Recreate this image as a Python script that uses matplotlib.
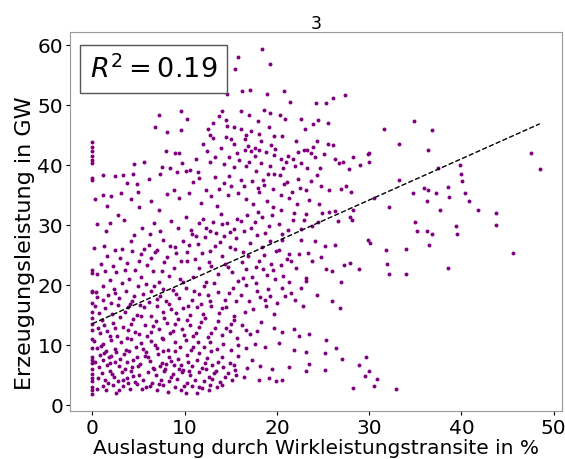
import matplotlib
matplotlib.use("Agg")
import matplotlib.pyplot as plt
import numpy as np

# points: (Auslastung %, Erzeugung GW)
zero_col = [43.8, 43.0, 42.2, 41.5, 40.8, 40.2, 37.8, 37.5, 22.5, 22.0, 19.0, 18.7, 17.0,
            15.5, 14.5, 13.5, 12.5, 11.0, 9.5, 8.0, 7.5, 7.0, 6.0, 5.2, 4.5, 4.0, 3.0, 2.5, 1.8]

upper = [
    (18.4, 59.2), (15.8, 57.9), (15.5, 56.0), (19.3, 56.8), (12.1, 52.2), (14.6, 51.8),
    (16.2, 52.3), (17.1, 52.5), (18.9, 51.8), (20.8, 52.3), (21.4, 50.4), (24.2, 50.2),
    (25.3, 50.2), (26.1, 51.1), (27.4, 51.6), (14.1, 49.0), (13.7, 48.1), (14.5, 47.5),
    (16.1, 49.0), (17.0, 48.2), (18.6, 49.1), (19.3, 48.6), (20.3, 48.3), (20.9, 47.6),
    (7.2, 48.2), (9.6, 48.9), (10.2, 47.6), (6.8, 46.2), (8.1, 45.4), (9.6, 45.7),
    (12.5, 46.0), (13.1, 47.0), (12.8, 45.0), (14.6, 46.4), (15.4, 46.2), (16.1, 45.9),
    (16.6, 44.9), (17.2, 45.6), (18.1, 45.1), (19.1, 46.2), (20.5, 44.8), (23.0, 46.0),
    (23.9, 46.8), (24.5, 47.5), (25.5, 47.0), (22.6, 47.6), (31.6, 46.0), (34.9, 47.2),
    (36.8, 45.8),
    (12.0, 43.5), (13.1, 44.4), (14.5, 44.6), (15.3, 43.5), (16.5, 44.3), (17.6, 42.8),
    (18.3, 43.9), (19.4, 43.2), (22.1, 43.9), (23.3, 42.5), (24.3, 44.0), (25.5, 43.5),
    (26.1, 43.2), (33.2, 43.5), (36.4, 42.5), (47.5, 42.0), (30.0, 42.0), (30.0, 40.5),
    (8.0, 42.2), (9.0, 42.0), (9.4, 41.9), (11.2, 41.0), (12.4, 42.3), (13.3, 41.3),
    (14.8, 41.2), (15.7, 42.0), (16.5, 42.5), (17.2, 42.3), (17.6, 41.5), (18.8, 42.1),
    (19.7, 41.6), (21.2, 41.4), (22.3, 42.1), (22.9, 42.5), (23.7, 41.9), (24.1, 41.3),
    (25.1, 41.7), (26.3, 41.0), (27.2, 40.5), (28.2, 41.2), (29.9, 41.8),
    (4.5, 40.1), (5.6, 40.4), (7.5, 39.6), (8.4, 39.4), (9.7, 40.2), (10.6, 39.1),
    (11.4, 38.8), (12.7, 40.5), (14.3, 40.1), (15.3, 39.6), (16.7, 39.7), (18.3, 40.3),
    (19.2, 39.8), (21.0, 40.5), (22.0, 39.7), (23.3, 39.5), (24.7, 39.4), (26.7, 40.3),
    (27.8, 39.3), (29.0, 40.0), (37.5, 39.5), (39.8, 40.0), (48.5, 39.3), (40.0, 38.5),
]

middle = [
    (1.1, 38.2), (2.4, 38.1), (3.3, 38.2), (3.7, 37.0), (4.4, 38.5), (4.8, 36.8),
    (6.1, 37.6), (7.3, 38.5), (9.2, 38.7), (10.1, 38.9), (10.9, 37.1), (11.5, 37.8),
    (12.3, 35.8), (13.3, 37.9), (14.3, 37.0), (15.0, 36.5), (16.1, 37.5), (17.3, 37.3),
    (17.9, 36.1), (18.6, 36.6), (19.7, 38.4), (20.3, 38.2), (21.1, 37.1), (22.3, 37.6),
    (23.1, 35.7), (24.8, 36.4), (25.7, 35.8), (26.9, 36.0), (27.5, 36.5), (28.0, 35.5),
    (34.8, 35.2), (35.9, 36.1), (36.4, 35.7), (37.3, 35.2), (38.5, 36.2), (40.1, 37.2),
    (40.4, 35.2), (33.2, 37.4),
    (0.3, 34.2), (1.2, 34.9), (1.6, 33.1), (2.0, 34.7), (3.1, 35.3), (4.2, 34.2),
    (4.9, 35.5), (5.1, 32.9), (6.3, 33.9), (7.2, 32.5), (8.1, 35.1), (8.8, 35.7),
    (9.4, 34.4), (10.5, 35.2), (11.8, 33.6), (12.9, 34.7), (13.5, 33.1), (14.7, 34.9),
    (15.8, 35.2), (16.6, 34.3), (17.4, 33.5), (18.1, 35.4), (18.9, 34.0), (19.6, 33.0),
    (20.4, 35.0), (21.3, 34.4), (22.2, 33.5), (23.5, 34.1), (24.6, 33.4), (26.3, 32.3),
    (28.3, 32.5), (30.5, 34.5), (32.1, 33.0), (36.3, 34.0), (37.7, 32.4), (38.7, 34.6),
    (40.8, 34.0), (41.8, 32.4), (43.7, 32.0), (39.4, 29.8), (43.7, 30.0), (35.0, 30.5),
    (0.5, 30.1), (1.5, 29.0), (1.9, 30.2), (2.8, 31.6), (3.4, 30.8), (4.5, 28.3),
    (5.4, 29.4), (6.2, 28.5), (6.7, 30.2), (7.3, 29.0), (8.5, 30.6), (9.3, 29.5),
    (10.1, 31.2), (10.8, 28.4), (11.5, 30.2), (12.3, 29.4), (13.1, 30.5), (13.9, 31.7),
    (14.6, 30.2), (15.4, 29.3), (16.1, 30.6), (16.8, 31.6), (17.6, 30.4), (18.4, 31.2),
    (19.1, 29.8), (20.2, 30.1), (20.6, 28.4), (21.7, 30.8), (22.6, 29.3), (23.1, 31.7),
    (24.4, 30.5), (25.6, 32.1), (26.6, 30.6), (27.9, 31.2), (28.1, 30.8),
    (0.2, 26.1), (1.3, 26.4), (2.5, 25.7), (3.2, 25.9), (4.2, 27.2), (5.3, 25.1),
    (6.1, 26.6), (6.8, 25.4), (7.7, 27.5), (8.4, 26.5), (9.1, 25.3), (9.8, 27.3),
    (10.3, 25.4), (10.7, 29.1), (11.4, 26.8), (12.2, 27.9), (12.8, 25.6), (13.8, 27.1),
    (14.3, 28.1), (14.9, 26.2), (15.6, 27.7), (16.3, 25.4), (17.1, 26.9), (17.8, 28.2),
    (18.4, 26.3), (19.2, 27.2), (19.9, 25.6), (20.6, 27.4), (21.3, 25.1), (22.6, 27.5),
    (23.4, 25.2), (24.1, 27.3), (25.2, 26.4), (26.3, 26.6), (29.9, 27.4), (30.1, 27.0),
    (31.8, 25.8), (34.0, 25.9), (35.2, 28.9), (36.3, 28.9), (36.8, 28.4), (36.5, 26.6),
    (39.5, 28.4), (45.6, 25.3), (27.3, 23.3), (27.9, 23.6),
    (0.5, 21.8), (1.4, 22.3), (1.9, 20.7), (2.6, 22.1), (3.5, 22.4), (4.0, 20.9),
    (4.6, 22.5), (5.3, 21.2), (5.9, 23.3), (6.6, 22.3), (7.2, 20.5), (7.8, 23.7),
    (8.3, 21.5), (8.8, 22.8), (9.5, 20.9), (10.2, 23.9), (10.9, 21.3), (11.6, 22.7),
    (12.3, 20.4), (12.9, 23.1), (13.6, 21.8), (14.4, 23.5), (15.1, 22.1), (15.8, 20.6),
    (16.6, 22.6), (17.3, 21.3), (18.1, 23.9), (18.9, 21.6), (19.6, 22.4), (20.4, 23.3),
    (21.3, 20.5), (22.1, 22.8), (23.2, 21.1), (25.3, 22.6), (28.9, 22.6), (31.9, 23.5),
    (32.2, 21.8), (34.0, 21.8), (38.6, 22.7),
    (16.3, 21.1), (17.7, 20.2), (18.5, 22.6), (19.8, 21.0), (20.7, 21.4), (21.5, 23.9),
    (22.6, 19.4), (23.1, 20.6), (24.3, 18.3),
]

lower = [
    (0.4, 18.7), (1.1, 17.5), (1.7, 18.2), (2.3, 19.2), (2.9, 17.8), (3.6, 18.9),
    (4.3, 17.2), (4.9, 19.7), (5.5, 18.4), (6.1, 17.1), (6.7, 19.8), (7.3, 18.1),
    (8.0, 17.2), (8.7, 19.1), (9.4, 17.8), (10.1, 19.5), (10.8, 17.4), (11.5, 18.5),
    (12.1, 19.7), (12.8, 17.2), (13.6, 18.8), (14.4, 17.4), (15.2, 19.4), (16.1, 18.3),
    (17.0, 17.3), (17.8, 18.9), (18.7, 17.5), (19.3, 18.1), (20.5, 19.5), (21.5, 18.6),
    (26.0, 17.3),
    (0.3, 16.4), (0.7, 15.3), (1.4, 16.1), (2.1, 15.1), (2.8, 16.6), (3.5, 15.4),
    (4.1, 16.8), (4.8, 14.9), (5.6, 16.2), (6.3, 14.8), (7.0, 16.4), (7.6, 15.5),
    (8.3, 16.7), (9.1, 15.2), (9.8, 16.1), (10.6, 14.9), (11.3, 16.3), (12.0, 15.1),
    (12.9, 16.5), (13.7, 15.3), (14.5, 16.2), (15.3, 14.8), (16.5, 15.4), (18.8, 16.5),
    (19.7, 15.1), (22.8, 16.5), (26.8, 16.1),
    (0.6, 12.8), (1.0, 14.1), (1.6, 12.2), (2.2, 13.6), (2.7, 11.5), (3.3, 13.0),
    (3.9, 12.4), (4.4, 14.2), (5.1, 11.8), (5.7, 13.3), (6.3, 12.1), (6.9, 14.0),
    (7.5, 11.2), (8.1, 13.6), (8.7, 12.3), (9.3, 14.3), (9.9, 11.6), (10.6, 13.2),
    (11.2, 12.0), (11.8, 13.8), (12.5, 11.3), (13.3, 12.8), (14.1, 11.6), (14.9, 12.2),
    (15.7, 11.1), (16.6, 12.5), (17.8, 12.2), (19.7, 12.8), (21.9, 12.6), (22.4, 11.5),
    (23.5, 11.8), (25.3, 10.8), (15.0, 13.5),
    (0.2, 10.6), (0.5, 9.5), (1.1, 10.2), (1.5, 8.9), (2.0, 10.8), (2.5, 9.3),
    (3.1, 10.5), (3.6, 9.1), (4.2, 10.9), (4.7, 9.6), (5.3, 10.3), (5.8, 8.8),
    (6.4, 10.7), (7.0, 9.4), (7.6, 10.9), (8.2, 9.2), (8.9, 10.4), (9.5, 9.7),
    (10.1, 10.8), (10.7, 9.1), (11.4, 10.4), (12.1, 9.6), (12.8, 10.5), (13.5, 9.3),
    (14.2, 10.1), (15.0, 9.2), (15.8, 9.9), (16.7, 9.5), (17.6, 10.2), (18.7, 9.7),
    (20.2, 10.3), (21.9, 9.2), (23.2, 8.8), (25.2, 8.7), (26.4, 9.4), (27.1, 7.7),
    (0.3, 7.2), (0.8, 8.3), (1.2, 7.5), (1.6, 6.6), (2.0, 8.1), (2.4, 7.2),
    (2.9, 6.5), (3.4, 8.4), (3.8, 7.1), (4.3, 6.3), (4.8, 7.9), (5.2, 6.8),
    (5.7, 8.2), (6.2, 7.3), (6.6, 6.1), (7.1, 8.5), (7.5, 7.0), (7.9, 5.9),
    (8.3, 8.0), (8.8, 6.7), (9.3, 7.6), (9.8, 5.8), (10.3, 8.3), (10.8, 6.4),
    (11.3, 7.4), (11.9, 6.1), (12.4, 7.8), (13.0, 6.6), (13.6, 7.2), (14.2, 6.3),
    (14.9, 7.0), (15.5, 5.8), (16.8, 6.2), (17.3, 7.4), (18.2, 6.5), (19.5, 5.9),
    (21.3, 6.3), (23.2, 5.7), (23.5, 6.8), (25.2, 5.8), (29.7, 7.9), (28.9, 6.6),
    (30.0, 5.6),
    (0.6, 4.4), (1.0, 5.3), (1.4, 4.1), (1.9, 5.6), (2.3, 4.6), (2.8, 3.9),
    (3.2, 5.4), (3.7, 4.4), (4.2, 5.7), (4.6, 3.8), (5.1, 5.0), (5.5, 4.2),
    (6.0, 5.5), (6.5, 3.6), (6.9, 4.9), (7.4, 4.1), (7.8, 5.6), (8.3, 3.9),
    (8.7, 5.1), (9.2, 4.3), (9.7, 5.4), (10.2, 3.7), (10.6, 4.9), (11.1, 4.1),
    (11.6, 5.5), (12.1, 3.9), (12.6, 4.7), (13.2, 5.3), (13.8, 3.8), (14.4, 4.6),
    (15.1, 4.2), (15.6, 4.9), (18.1, 4.1), (19.1, 4.4), (19.9, 4.0), (20.6, 4.2),
    (30.8, 4.3), (29.6, 4.8),
    (0.5, 2.6), (1.1, 3.1), (1.5, 2.4), (2.2, 3.3), (2.9, 2.5), (3.3, 3.2),
    (4.1, 2.6), (4.8, 3.4), (5.4, 2.7), (6.2, 3.1), (7.0, 2.4), (7.6, 3.3),
    (8.2, 2.2), (8.9, 3.0), (9.6, 2.5), (10.1, 1.9), (10.8, 3.2), (11.3, 1.9),
    (11.9, 2.8), (12.8, 3.3), (13.5, 2.9), (28.2, 2.8), (30.5, 3.1), (32.9, 2.6),
]

# second pass over the dense cloud (x 0-25)
dense = [
    (0.9, 9.8), (1.3, 8.7), (1.8, 7.9), (0.7, 6.3), (1.9, 6.9), (2.6, 8.8), (2.1, 5.2),
    (3.0, 7.7), (3.5, 6.0), (4.0, 8.9), (4.4, 7.4), (4.9, 6.4), (5.5, 9.3), (6.0, 7.9),
    (6.8, 9.9), (7.3, 6.5), (7.7, 9.0), (8.5, 7.3), (8.0, 6.8), (9.0, 8.9), (9.6, 6.6),
    (10.4, 7.1), (10.9, 9.6), (11.6, 8.7), (12.2, 6.9), (12.9, 8.9), (13.4, 5.6),
    (14.0, 7.9), (14.7, 5.3), (15.3, 6.7), (15.8, 8.1), (16.4, 4.7), (3.3, 4.1),
    (4.4, 4.8), (5.8, 3.0), (6.7, 5.9), (8.5, 4.6), (9.4, 6.0), (10.5, 5.7), (11.5, 2.9),
    (12.3, 5.9), (13.0, 4.3), (14.1, 3.3), (1.7, 3.6), (2.6, 2.0), (3.9, 3.6), (7.2, 3.5),
    (9.9, 3.2), (12.6, 2.4),
    (0.8, 11.9), (1.3, 13.2), (1.9, 11.4), (2.4, 12.7), (3.0, 14.6), (3.7, 11.2),
    (4.2, 13.5), (4.6, 12.1), (5.3, 14.7), (5.9, 11.5), (6.6, 13.1), (7.2, 12.6),
    (7.8, 14.4), (8.4, 11.9), (9.0, 13.4), (9.7, 12.6), (10.3, 14.1), (10.9, 11.4),
    (11.5, 12.9), (12.2, 14.5), (12.9, 12.0), (13.6, 13.9), (14.5, 12.8), (15.4, 14.1),
    (16.2, 13.3), (17.1, 11.8), (18.3, 13.7), (20.6, 12.1),
    (0.5, 17.9), (1.2, 19.8), (2.0, 16.9), (2.5, 18.6), (3.2, 20.3), (3.9, 16.2),
    (4.5, 18.1), (5.2, 16.6), (5.8, 20.1), (6.4, 18.9), (7.0, 17.6), (7.7, 19.3),
    (8.5, 15.9), (9.1, 18.4), (9.8, 20.4), (10.4, 16.4), (11.0, 19.0), (11.8, 16.8),
    (12.5, 18.2), (13.2, 20.2), (14.0, 16.1), (14.8, 18.6), (15.6, 17.3), (16.6, 19.9),
    (17.4, 16.0), (18.2, 17.9), (19.0, 19.3), (20.0, 16.9), (20.9, 18.1), (22.0, 17.4),
    (0.9, 23.5), (1.6, 24.8), (2.2, 23.1), (3.0, 24.4), (3.8, 23.6), (4.3, 25.6),
    (5.0, 24.0), (5.6, 26.0), (6.3, 24.4), (7.0, 25.8), (7.5, 22.2), (8.1, 24.6),
    (8.9, 26.2), (9.6, 24.0), (10.5, 26.6), (11.1, 24.3), (11.9, 25.2), (12.6, 23.8),
    (13.3, 26.4), (14.1, 24.8), (14.7, 22.9), (15.5, 25.9), (16.2, 23.7), (16.9, 24.7),
    (17.7, 23.0), (18.6, 24.9), (19.4, 23.4), (20.2, 25.8), (21.1, 24.3), (22.4, 25.1),
    (23.8, 23.9), (24.8, 24.6), (26.0, 22.2), (27.0, 20.4),
    (11.2, 28.1), (12.0, 30.9), (12.7, 29.0), (13.4, 28.6), (14.0, 30.1), (14.9, 28.8),
    (15.7, 31.0), (16.4, 28.9), (17.2, 29.4), (18.0, 32.1), (18.7, 28.6), (19.5, 31.6),
    (20.4, 32.4), (21.2, 29.1), (21.9, 32.0), (22.9, 30.7), (23.8, 29.7), (24.9, 31.9),
    (19.6, 35.9), (20.8, 36.8), (21.6, 35.4), (22.5, 36.1), (23.7, 37.3), (24.3, 38.3),
    (13.7, 35.9), (14.8, 38.1), (16.4, 36.4), (17.7, 38.9), (18.5, 37.5), (19.0, 38.4),
    (20.7, 39.4), (21.7, 41.0), (22.6, 40.3), (23.9, 43.0), (15.9, 40.8), (17.0, 40.5),
    (18.1, 42.4), (19.8, 42.6), (20.4, 41.0), (13.9, 42.7), (15.0, 44.2), (17.9, 47.2),
    (19.7, 44.7), (16.9, 43.1),
]

# regression line
trend_x = [0.0, 48.5]
trend_y = [13.5, 46.8]
r2_text = r"$R^2 = 0.19$"

pts = np.array(upper + middle + lower + dense)
util = np.concatenate([np.zeros(len(zero_col)), pts[:, 0]])
gen = np.concatenate([zero_col, pts[:, 1]])

fig = plt.figure(figsize=(5.65, 4.6), dpi=100)
ax = fig.add_axes([0.124, 0.104, 0.871, 0.824])
ax.scatter(util, gen, s=8, color="purple", linewidths=0)
ax.plot(trend_x, trend_y, color="black", linestyle="--", linewidth=1)

ax.set_title("3", fontsize=12.5, pad=2)
ax.set_xlabel("Auslastung durch Wirkleistungstransite in %", fontsize=14.5, labelpad=1)
ax.set_ylabel("Erzeugungsleistung in GW", fontsize=16)
ax.yaxis.set_label_coords(-0.072, 0.445)
ax.tick_params(labelsize=14.5, length=3, pad=2)
for sp in ax.spines.values():
    sp.set_color("#999999")
ax.set_xticks([0, 10, 20, 30, 40, 50])
ax.set_yticks([0, 10, 20, 30, 40, 50, 60])

ax.text(0.04, 0.94, r2_text, transform=ax.transAxes, fontsize=19.5, va="top", ha="left",
        bbox=dict(boxstyle="square,pad=0.35", fc="white", ec="#555555"))

fig.savefig("out.png", dpi=100)
